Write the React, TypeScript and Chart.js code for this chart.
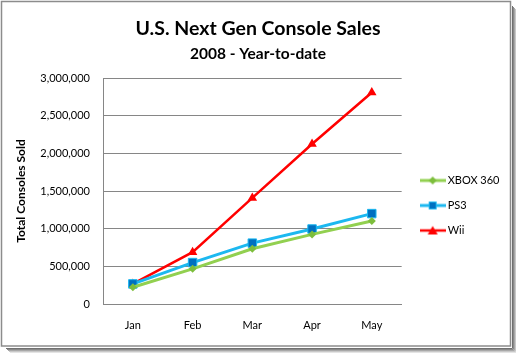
import React, { useEffect, useRef } from "react";
import { Chart, registerables } from "chart.js";

Chart.register(...registerables);

const months = ["Jan", "Feb", "Mar", "Apr", "May"];
const xbox360 = [222000, 467000, 733000, 924000, 1101000];
const ps3 = [267000, 550000, 808000, 995000, 1200000];
const wii = [267000, 688000, 1408000, 2124000, 2808000];
const seriesNames = ["XBOX 360", "PS3", "Wii"];
const yTicks = [0, 500000, 1000000, 1500000, 2000000, 2500000, 3000000];

const FONT = "Lato, 'Open Sans', sans-serif";

const GREEN_LINE = "#92D050";
const GREEN_MARK = "#7DBE3C";
const BLUE_LINE = "#1CB8F0";
const BLUE_MARK = "#0070C0";
const RED = "#FF0000";

function legendIcon(color: string, markColor: string, style: string, lw: number) {
  const c = document.createElement("canvas");
  c.width = 26;
  c.height = 12;
  const ctx = c.getContext("2d")!;
  ctx.strokeStyle = color;
  ctx.lineWidth = lw;
  ctx.beginPath();
  ctx.moveTo(0, 6);
  ctx.lineTo(26, 6);
  ctx.stroke();
  ctx.fillStyle = markColor;
  ctx.beginPath();
  if (style === "diamond") {
    ctx.moveTo(13, 2);
    ctx.lineTo(17, 6);
    ctx.lineTo(13, 10);
    ctx.lineTo(9, 6);
    ctx.closePath();
    ctx.fill();
  } else if (style === "square") {
    ctx.rect(9, 2, 8, 8);
    ctx.fill();
    ctx.strokeStyle = color;
    ctx.lineWidth = 1;
    ctx.strokeRect(9.5, 2.5, 7, 7);
  } else {
    ctx.moveTo(13, 1.5);
    ctx.lineTo(18, 10);
    ctx.lineTo(8, 10);
    ctx.closePath();
    ctx.fill();
  }
  return c;
}

const framePlugin = {
  id: "frame",
  beforeDraw(chart: any) {
    const ctx = chart.ctx;
    ctx.save();
    ctx.fillStyle = "#ffffff";
    ctx.fillRect(0, 0, chart.width, chart.height);
    const shades = ["#707070", "#8a8a8a", "#a8a8a8", "#c8c8c8", "#e4e4e4"];
    for (let i = 0; i < shades.length; i++) {
      ctx.strokeStyle = shades[i];
      ctx.lineWidth = 1;
      ctx.beginPath();
      ctx.moveTo(512.5 + i, 6 + i);
      ctx.lineTo(512.5 + i, 348.5 + i);
      ctx.lineTo(6 + i, 348.5 + i);
      ctx.stroke();
    }
    ctx.strokeStyle = "#8c8c8c";
    ctx.lineWidth = 1.5;
    ctx.strokeRect(1.5, 1.5, 509, 344.5);
    ctx.restore();
  },
  afterLayout(chart: any) {
    const lg = chart.legend;
    if (lg) {
      lg.left += 7.5;
      lg.right += 7.5;
      lg.top += 29;
      lg.bottom += 29;
    }
  },
};

export default function App() {
  const ref = useRef<HTMLCanvasElement>(null);
  useEffect(() => {
    document.body.style.margin = "0";
    const icons = [
      legendIcon(GREEN_LINE, GREEN_MARK, "diamond", 3),
      legendIcon(BLUE_LINE, BLUE_MARK, "square", 3),
      legendIcon(RED, RED, "triangle", 2.5),
    ];
    const chart = new Chart(ref.current!, {
      type: "line",
      data: {
        labels: months,
        datasets: [
          {
            label: seriesNames[0],
            data: xbox360,
            borderColor: GREEN_LINE,
            backgroundColor: GREEN_MARK,
            borderWidth: 3,
            pointStyle: "rectRot",
            pointRadius: 4,
            pointBorderWidth: 0,
            pointBackgroundColor: GREEN_MARK,
            tension: 0,
          },
          {
            label: seriesNames[1],
            data: ps3,
            borderColor: BLUE_LINE,
            backgroundColor: BLUE_MARK,
            borderWidth: 3,
            pointStyle: "rect",
            pointRadius: 6,
            pointBorderWidth: 1,
            pointBorderColor: BLUE_LINE,
            pointBackgroundColor: BLUE_MARK,
            tension: 0,
          },
          {
            label: seriesNames[2],
            data: wii,
            borderColor: RED,
            backgroundColor: RED,
            borderWidth: 2.5,
            pointStyle: "triangle",
            pointRadius: 5.5,
            pointBorderWidth: 0,
            pointBackgroundColor: RED,
            tension: 0,
          },
        ],
      },
      options: {
        animation: false,
        responsive: false,
        maintainAspectRatio: false,
        layout: { padding: { left: 14, right: 14, top: 0, bottom: 0 } },
        plugins: {
          tooltip: { enabled: false },
          title: {
            display: true,
            text: "U.S. Next Gen Console Sales",
            color: "#000000",
            font: { family: FONT, size: 19.5, weight: "bold" },
            padding: { top: 17, bottom: 4 },
          },
          subtitle: {
            display: true,
            text: "2008 - Year-to-date",
            color: "#000000",
            font: { family: FONT, size: 15.5, weight: "bold" },
            padding: { top: 0, bottom: 15 },
          },
          legend: {
            position: "right",
            align: "center",
            labels: {
              usePointStyle: true,
              pointStyleWidth: 19,
              padding: 14,
              color: "#000000",
              font: { family: FONT, size: 11 },
              generateLabels: (chart: any) =>
                chart.data.datasets.map((ds: any, i: number) => ({
                  text: ds.label,
                  pointStyle: icons[i],
                  fillStyle: ds.borderColor,
                  strokeStyle: ds.borderColor,
                  lineWidth: 0,
                  hidden: false,
                  datasetIndex: i,
                  fontColor: "#000000",
                })),
            },
          },
        },
        scales: {
          x: {
            offset: true,
            grid: { display: false, drawTicks: false, offset: true },
            border: { display: true, color: "#868686", width: 1 },
            ticks: {
              color: "#000000",
              padding: 15,
              font: { family: FONT, size: 11 },
            },
            afterFit: (s: any) => {
              s.height = 49;
            },
          },
          y: {
            min: 0,
            max: 3000000,
            afterBuildTicks: (s: any) => {
              s.ticks = yTicks.map((v) => ({ value: v }));
            },
            grid: { color: "#868686", lineWidth: 1, drawTicks: false },
            border: { display: true, color: "#868686", width: 1 },
            ticks: {
              color: "#000000",
              padding: 13,
              font: { family: FONT, size: 11 },
              callback: (v: any) => Number(v).toLocaleString("en-US"),
            },
            title: {
              display: true,
              text: "Total Consoles Sold",
              color: "#000000",
              font: { family: FONT, size: 12, weight: "bold" },
              padding: { top: 0, bottom: 0 },
            },
            afterFit: (s: any) => {
              s.width = 89;
            },
          },
        },
      },
      plugins: [framePlugin],
    });
    return () => chart.destroy();
  }, []);
  return (
    <div style={{ position: "absolute", left: 0, top: 0, width: 516, height: 353 }}>
      <canvas ref={ref} width={516} height={353} style={{ width: 516, height: 353, display: "block" }} />
    </div>
  );
}
